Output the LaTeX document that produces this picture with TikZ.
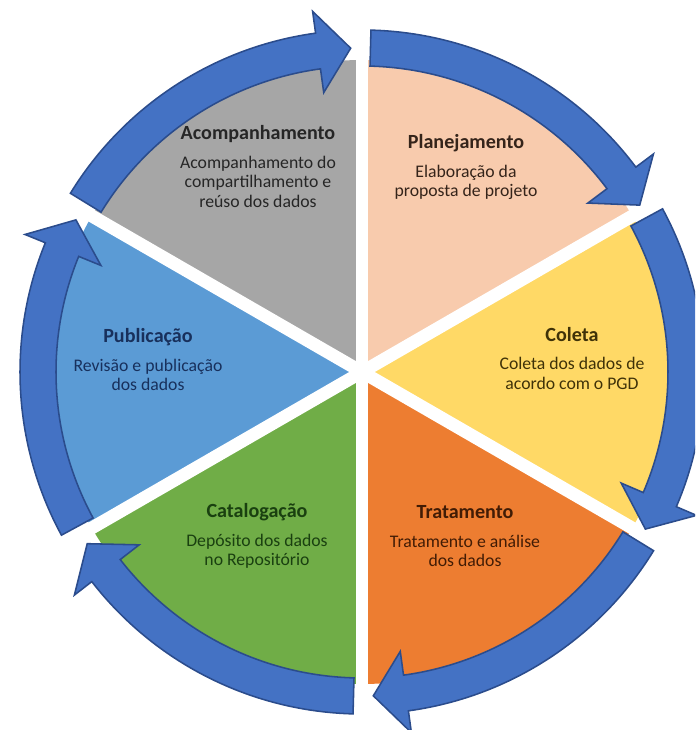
\documentclass[tikz,border=0pt]{standalone}
\usepackage{fontspec}
\setsansfont{Carlito}
\usetikzlibrary{positioning}
\definecolor{cycBlue}{HTML}{4472C4}
\definecolor{cycEdge}{HTML}{2B4C8C}
\definecolor{secGray}{HTML}{A6A6A6}
\definecolor{secPeach}{HTML}{F8CBAD}
\definecolor{secGold}{HTML}{FFD966}
\definecolor{secOrange}{HTML}{ED7D31}
\definecolor{secGreen}{HTML}{70AD47}
\definecolor{secBlue}{HTML}{5B9BD5}
\definecolor{txtGray}{HTML}{262626}
\definecolor{txtPeach}{HTML}{35241A}
\definecolor{txtGold}{HTML}{3F3208}
\definecolor{txtOrange}{HTML}{421C05}
\definecolor{txtGreen}{HTML}{1A4010}
\definecolor{txtBlue}{HTML}{18305C}

\begin{document}
\begin{tikzpicture}[font=\sffamily,
  phase/.style={align=center,inner sep=0pt,font=\sffamily\fontsize{12.6}{14}\selectfont},
  ringarrow/.style={fill=cycBlue,draw=cycEdge,line width=1.1pt,line join=miter}]
  \useasboundingbox (-9.05,-8.95) rectangle (8.325,9.3);
  \clip (-9.05,-8.95) rectangle (8.325,9.3);
  % six phases of the cycle
  \foreach \a/\c in {90/secGray,30/secPeach,-30/secGold,-90/secOrange,-150/secGreen,150/secBlue}
    \fill[\c] (0,0) -- (\a:7.8) arc[start angle=\a,delta angle=60,radius=7.8cm] -- cycle;
  \foreach \a in {30,90,...,330}
    \draw[white,line width=0.32cm] (0,0) -- (\a:8);
  % outer ring of arrows, clockwise
  \foreach \t/\p in {148.5/92,88.5/31,28.5/-29,-31.5/-88,-91.5/-148,-151.5/-208} {
    \pgfmathsetmacro\b{\p+5.8}
    \filldraw[ringarrow] (\t:8.55) arc[start angle=\t,end angle=\b,radius=8.55cm]
      -- (\b:9.1) -- (\p:8.1) -- (\b:7.05) -- (\b:7.65)
      arc[start angle=\b,end angle=\t,radius=7.65cm] -- cycle;
  }
  % labels
  \node[phase,text=txtGray] (acomp) at (-2.6,5.14)
    {\textbf{\fontsize{14.3}{14}\selectfont Acompanhamento}\\[6.5pt]Acompanhamento do\\compartilhamento e\\reúso dos dados};
  \node[phase,text=txtPeach] (plan) at (2.6,5.125)
    {\textbf{\fontsize{14.3}{14}\selectfont Planejamento}\\[6.5pt]Elaboração da\\proposta de projeto};
  \node[phase,text=txtGold] (coleta) at (5.25,0.34)
    {\textbf{\fontsize{14.3}{14}\selectfont Coleta}\\[6.5pt]Coleta dos dados de\\acordo com o PGD};
  \node[phase,text=txtOrange] (trat) at (2.575,-4.1)
    {\textbf{\fontsize{14.3}{14}\selectfont Tratamento}\\[6.5pt]Tratamento e análise\\dos dados};
  \node[phase,text=txtGreen] (catal) at (-2.625,-4.1)
    {\textbf{\fontsize{14.3}{14}\selectfont Catalogação}\\[6.5pt]Depósito dos dados\\no Repositório};
  \node[phase,text=txtBlue] (publ) at (-5.35,0.31)
    {\textbf{\fontsize{14.3}{14}\selectfont Publicação}\\[6.5pt]Revisão e publicação\\dos dados};
\end{tikzpicture}
\end{document}
